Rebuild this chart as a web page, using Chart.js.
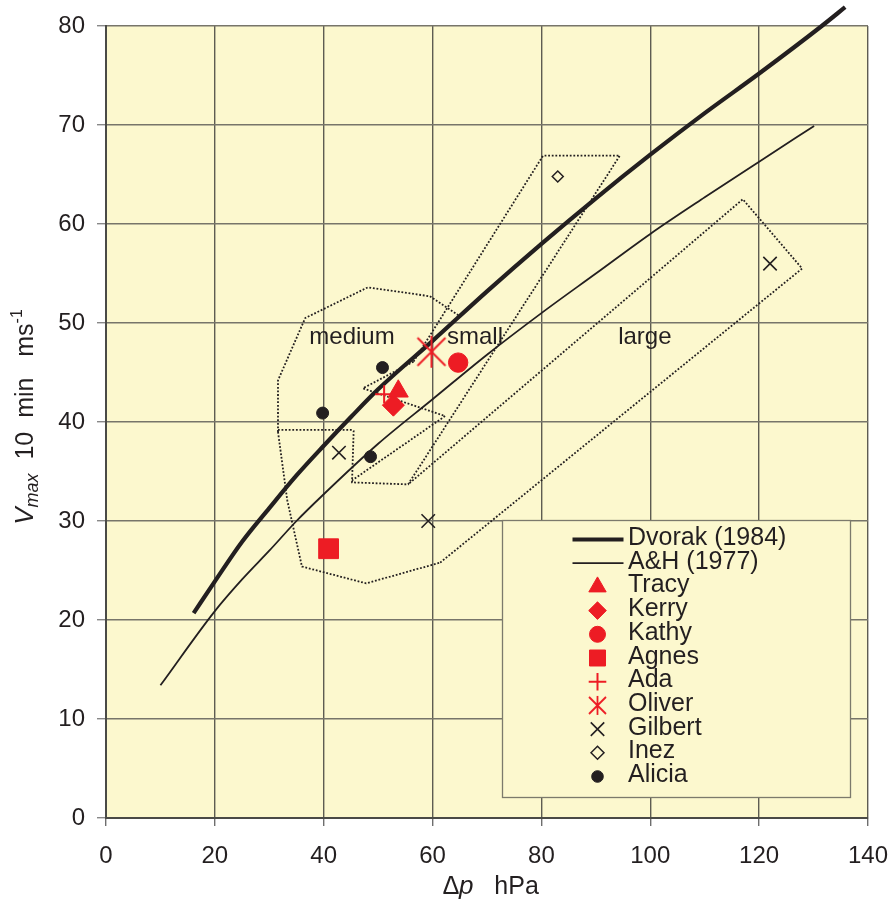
<!DOCTYPE html>
<html><head><meta charset="utf-8">
<script src="https://cdn.jsdelivr.net/npm/chart.js@4/dist/chart.umd.min.js"></script>
<style>html,body{margin:0;padding:0;background:#fff;}#wrap{width:891px;height:908px;}</style>
</head><body><div id="wrap"><canvas id="c" width="891" height="908"></canvas></div>
<script>
// ---------- data ----------
const xTicks = [0, 20, 40, 60, 80, 100, 120, 140];
const yTicks = [0, 10, 20, 30, 40, 50, 60, 70, 80];

const dvorakDp = [16.1, 20, 25, 30, 35, 40, 45, 50, 60, 70, 80, 90, 100, 110, 120, 131.5, 135.8];
const dvorakV  = [20.7, 23.9, 27.9, 31.3, 34.6, 37.6, 40.5, 43.3, 48.2, 53.2, 58.0, 62.6, 67.0, 71.2, 75.2, 80.0, 81.9];

const ahDp = [10, 20, 25, 30, 35, 40, 50, 60, 70, 80, 90, 100, 110, 120, 130.1];
const ahV  = [13.4, 20.9, 24.1, 27.0, 30.0, 32.7, 37.8, 42.3, 46.8, 51.0, 55.0, 59.0, 62.7, 66.3, 69.9];

const tracyDp = [53.7],  tracyV = [43.1];
const kerryDp = [52.8],  kerryV = [41.7];
const kathyDp = [64.7],  kathyV = [46.0];
const agnesDp = [40.9],  agnesV = [27.2];
const adaDp   = [51.1],  adaV   = [42.8];
const oliverDp= [59.8],  oliverV= [47.1];
const gilbertDp = [42.8, 59.2, 122.0], gilbertV = [36.9, 30.0, 56.0];
const inezDp  = [83.0],  inezV  = [64.8];
const aliciaDp = [39.8, 50.8, 48.6], aliciaV = [40.9, 45.5, 36.5];

// dotted envelope outlines
const envATopDp = [31.6, 31.6, 36.6, 48.1, 59.5, 64.7];
const envATopV  = [39.0, 44.2, 50.5, 53.6, 52.7, 50.8];
const envALowDp = [31.6, 33.3, 36.0, 47.8, 61.4];
const envALowV  = [39.0, 32.1, 25.4, 23.7, 25.8];
const envLargeDp = [61.4, 127.9, 117.0, 55.5];
const envLargeV  = [25.8, 55.5, 62.5, 33.7];
const envSmallDp = [56.5, 80.3, 94.4, 55.5, 45.2, 45.5, 45.2, 31.6];
const envSmallV  = [46.1, 66.9, 66.9, 33.7, 33.9, 39.1, 39.2, 39.2];
const envTriDp = [56.5, 47.2, 62.3, 45.2];
const envTriV  = [46.1, 43.4, 40.6, 34.1];

const regionNames = ['medium', 'small', 'large'];
const regionDp = [45.2, 67.8, 99.0];
const regionV  = [48.5, 48.5, 48.5];

// ---------- styles ----------
const BG = '#FCF8CE', INK = '#231F20', RED = '#ED1C24';
const FONT = '"Liberation Sans", Arial, Helvetica, sans-serif';
const pts = (xs, ys) => xs.map((x, i) => ({x, y: ys[i]}));

function makeAsterisk(r, rv, lw, color) {
  const s = Math.ceil(2 * Math.max(r, rv) + 4);
  const c = document.createElement('canvas'); c.width = s; c.height = s;
  const g = c.getContext('2d'); const m = s / 2;
  g.strokeStyle = color; g.lineWidth = lw; g.beginPath();
  g.moveTo(m - r, m - r); g.lineTo(m + r, m + r);
  g.moveTo(m + r, m - r); g.lineTo(m - r, m + r);
  g.moveTo(m, m - rv); g.lineTo(m, m + rv);
  g.stroke(); return c;
}
const asterBig = makeAsterisk(14, 16, 1.9, RED);
const asterSmall = makeAsterisk(8.5, 9.5, 1.8, RED);

const dotted = (dp, v) => ({data: pts(dp, v), showLine: true, pointRadius: 0, borderColor: INK,
  borderWidth: 1.8, borderDash: [1.8, 1.8], fill: false, tension: 0});

const markerSets = [
  {label: 'Tracy',  data: pts(tracyDp, tracyV),  pointStyle: 'triangle', pointRadius: 11.5, backgroundColor: RED, borderColor: RED, borderWidth: 1, lr: 10},
  {label: 'Kerry',  data: pts(kerryDp, kerryV),  pointStyle: 'rectRot', pointRadius: 11, backgroundColor: RED, borderColor: RED, borderWidth: 1, lr: 8.8},
  {label: 'Kathy',  data: pts(kathyDp, kathyV),  pointStyle: 'circle', pointRadius: 9.7, backgroundColor: RED, borderColor: RED, borderWidth: 1, lr: 8},
  {label: 'Agnes',  data: pts(agnesDp, agnesV),  pointStyle: 'rect', pointRadius: 14, backgroundColor: RED, borderColor: RED, borderWidth: 1, lr: 11.3},
  {label: 'Ada',    data: pts(adaDp, adaV),      pointStyle: 'cross', pointRadius: 9, backgroundColor: RED, borderColor: RED, borderWidth: 2, lr: 8.8},
  {label: 'Oliver', data: pts(oliverDp, oliverV), pointStyle: asterBig, pointRadius: 15, backgroundColor: RED, borderColor: RED, borderWidth: 1, lstyle: asterSmall, lr: 9},
  {label: 'Gilbert',data: pts(gilbertDp, gilbertV), pointStyle: 'crossRot', pointRadius: 9.5, backgroundColor: INK, borderColor: INK, borderWidth: 1.6, lr: 9.5},
  {label: 'Inez',   data: pts(inezDp, inezV),    pointStyle: 'rectRot', pointRadius: 5.5, backgroundColor: BG, borderColor: INK, borderWidth: 1.5, lr: 6.5},
  {label: 'Alicia', data: pts(aliciaDp, aliciaV), pointStyle: 'circle', pointRadius: 6, backgroundColor: INK, borderColor: INK, borderWidth: 1, lr: 5.8},
];
markerSets.forEach(d => { d.showLine = false; d.pointHoverRadius = d.pointRadius; });

const lineSets = [
  {label: 'Dvorak (1984)', data: pts(dvorakDp, dvorakV), showLine: true, pointRadius: 0, borderColor: INK, borderWidth: 4.2, cubicInterpolationMode: 'monotone', clip: false, lw: 4.2},
  {label: 'A&H (1977)', data: pts(ahDp, ahV), showLine: true, pointRadius: 0, borderColor: INK, borderWidth: 1.8, cubicInterpolationMode: 'monotone', lw: 1.8},
];

const envelopeSets = [
  dotted(envATopDp, envATopV), dotted(envALowDp, envALowV), dotted(envLargeDp, envLargeV),
  dotted(envSmallDp, envSmallV), dotted(envTriDp, envTriV)
];

// ---------- plugins ----------
const bgPlugin = {
  id: 'bgPlugin',
  beforeDraw(chart) {
    const {ctx, chartArea: a} = chart;
    ctx.save(); ctx.fillStyle = BG; ctx.fillRect(a.left, a.top, a.right - a.left, a.bottom - a.top); ctx.restore();
  },
  beforeDatasetsDraw(chart) {
    const {ctx, scales: {x, y}} = chart;
    ctx.save(); ctx.fillStyle = INK; ctx.font = '24px ' + FONT;
    ctx.textAlign = 'center'; ctx.textBaseline = 'middle';
    regionNames.forEach((n, i) => ctx.fillText(n, x.getPixelForValue(regionDp[i]), y.getPixelForValue(regionV[i])));
    ctx.restore();
  },
  afterDraw(chart) {
    const ctx = chart.ctx;
    // legend box
    const L = 502.5, T = 520.5, R = 850.5, B = 797.5;
    ctx.save();
    ctx.fillStyle = BG; ctx.fillRect(L, T, R - L, B - T);
    ctx.strokeStyle = '#7c7a6c'; ctx.lineWidth = 1.3; ctx.strokeRect(L, T, R - L, B - T);
    const items = [...lineSets.map(d => ({type: 'line', d})), ...markerSets.map(d => ({type: 'pt', d}))];
    const base0 = 545, step = 23.7, tx = 628, mx = 597.5;
    ctx.font = '25px ' + FONT; ctx.textBaseline = 'alphabetic'; ctx.textAlign = 'left';
    items.forEach((it, i) => {
      const by = base0 + i * step, cy = by - 5.5;
      if (it.type === 'line') {
        ctx.strokeStyle = INK; ctx.lineWidth = it.d.lw; ctx.lineCap = 'butt';
        ctx.beginPath(); ctx.moveTo(572.5, cy); ctx.lineTo(623.5, cy); ctx.stroke();
      } else {
        const d = it.d;
        ctx.fillStyle = d.backgroundColor; ctx.strokeStyle = d.borderColor; ctx.lineWidth = d.borderWidth;
        const style = d.lstyle || d.pointStyle;
        if (Chart.helpers && Chart.helpers.drawPoint) {
          Chart.helpers.drawPoint(ctx, {pointStyle: style, radius: d.lr, rotation: 0, borderWidth: d.borderWidth}, mx, cy);
        }
      }
      ctx.fillStyle = INK;
      ctx.fillText(it.d.label, tx, by);
    });
    ctx.restore();

    // axis titles
    ctx.save(); ctx.fillStyle = INK; ctx.textBaseline = 'alphabetic'; ctx.textAlign = 'left';
    const runs = [
      {t: 'V', f: 'italic 26px ' + FONT, dy: 0},
      {t: 'max', f: 'italic 18px ' + FONT, dy: 5},
      {t: '  10  min   ms', f: '25px ' + FONT, dy: 0},
      {t: '-1', f: '16px ' + FONT, dy: -11},
    ];
    let tot = 0; runs.forEach(r => { ctx.font = r.f; r.w = ctx.measureText(r.t).width; tot += r.w; });
    ctx.translate(33, 417); ctx.rotate(-Math.PI / 2);
    let px = -tot / 2;
    runs.forEach(r => { ctx.font = r.f; ctx.fillText(r.t, px, r.dy); px += r.w; });
    ctx.restore();

    ctx.save(); ctx.fillStyle = INK; ctx.textBaseline = 'alphabetic'; ctx.textAlign = 'left';
    const xr = [{t: '\u2206p', f: 'italic 26px ' + FONT}, {t: '   hPa', f: '25px ' + FONT}];
    let tw = 0; xr.forEach(r => { ctx.font = r.f; r.w = ctx.measureText(r.t).width; tw += r.w; });
    let xx = 491 - tw / 2;
    xr.forEach(r => { ctx.font = r.f; ctx.fillText(r.t, xx, 894); xx += r.w; });
    ctx.restore();
  }
};

// ---------- chart ----------
new Chart(document.getElementById('c'), {
  type: 'scatter',
  data: {datasets: [...markerSets, ...lineSets, ...envelopeSets]},
  options: {
    responsive: false, animation: false, events: [],
    layout: {padding: {left: 0, right: 23, top: 26, bottom: 0}},
    plugins: {legend: {display: false}, tooltip: {enabled: false}},
    scales: {
      x: {
        type: 'linear', min: 0, max: 140,
        afterBuildTicks: s => { s.ticks = xTicks.map(v => ({value: v})); },
        afterFit: s => { s.height = 90; s.paddingRight = 0; s.paddingLeft = 0; },
        ticks: {color: INK, font: {family: FONT, size: 24}, padding: 16, maxRotation: 0},
        grid: {color: '#5e5c52', lineWidth: 1.4, tickLength: 8, tickColor: '#6e6e6e', tickWidth: 1.4},
        border: {color: '#4a4a46', width: 2}
      },
      y: {
        type: 'linear', min: 0, max: 80,
        afterBuildTicks: s => { s.ticks = yTicks.map(v => ({value: v})); },
        afterFit: s => { s.width = 106; s.paddingTop = 0; s.paddingBottom = 0; },
        ticks: {color: INK, font: {family: FONT, size: 24}, padding: 12},
        grid: {color: '#77756a', lineWidth: 1.4, tickLength: 9, tickColor: '#888', tickWidth: 1.4},
        border: {color: '#4a4a46', width: 2}
      }
    }
  },
  plugins: [bgPlugin]
});
</script>
</body></html>
